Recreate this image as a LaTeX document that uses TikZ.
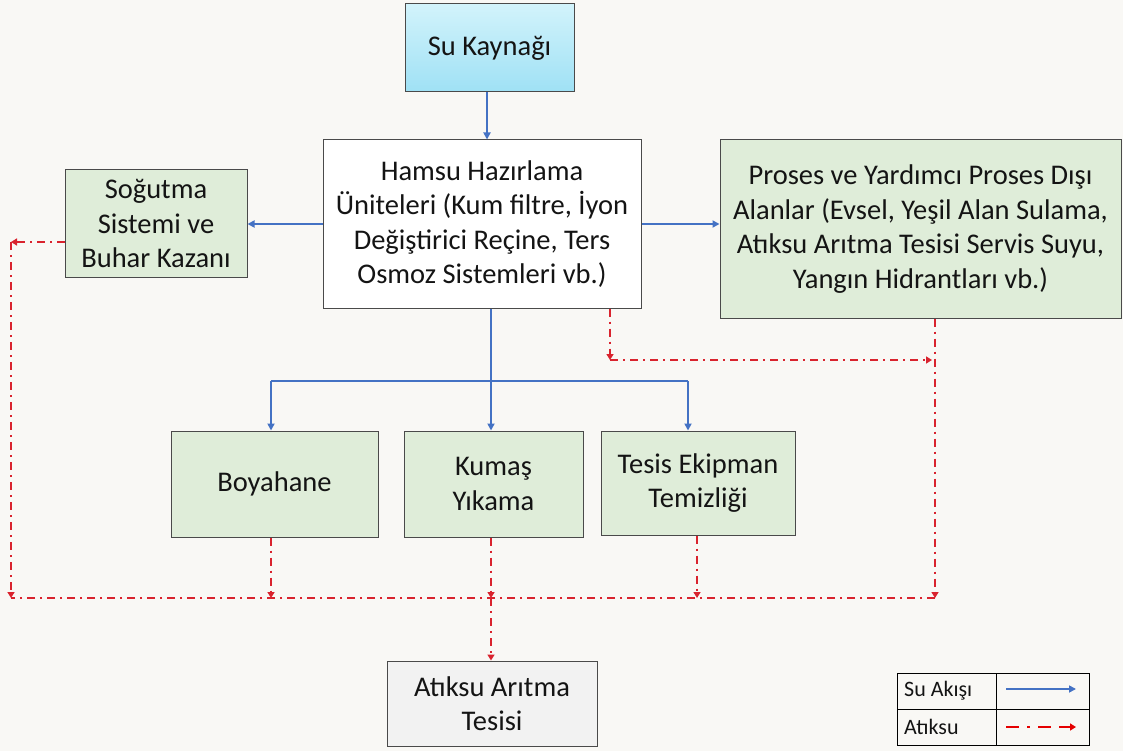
\documentclass[tikz,border=0pt]{standalone}
\usepackage{fontspec}
\setmainfont{Carlito}
\usetikzlibrary{arrows.meta,calc}
\definecolor{bg}{HTML}{F9F8F5}
\definecolor{boxgreen}{HTML}{DFEDD9}
\definecolor{boxgray}{HTML}{F2F2F2}
\definecolor{cyantop}{HTML}{D2F3FB}
\definecolor{cyanbot}{HTML}{9FE1F5}
\definecolor{flowblue}{HTML}{4472C4}
\definecolor{wastered}{HTML}{D9232E}
\definecolor{edgegray}{HTML}{4A4A4A}
\definecolor{txt}{HTML}{141414}
\tikzset{
  box/.style={draw=edgegray, line width=1pt, inner sep=0pt, align=center, text=txt,
    font=\fontsize{28.5}{34.5}\selectfont},
  greenbox/.style={box, fill=boxgreen},
  flow/.style={draw=flowblue, line width=2.2pt, -{Triangle[length=7pt,width=7pt]}},
  flowline/.style={draw=flowblue, line width=2.2pt},
  waste/.style={draw=wastered, line width=1.9pt, dash pattern=on 8pt off 5pt on 2pt off 5pt,
    -{Triangle[length=6pt,width=7pt]}},
  wasteline/.style={draw=wastered, line width=1.9pt, dash pattern=on 8pt off 5pt on 2pt off 5pt},
  legtext/.style={anchor=west, inner sep=0pt, text=txt, font=\fontsize{22}{24}\selectfont}
}
\begin{document}
\begin{tikzpicture}[x=1pt,y=-1pt]
\fill[bg] (0,0) rectangle (1123,751);
\useasboundingbox (0,0) rectangle (1123,751);

% boxes
\node[box, top color=cyantop, bottom color=cyanbot, minimum width=169pt, minimum height=88pt] (su) at (489.5,48) {Su Kaynağı};
\node[box, fill=white, minimum width=318pt, minimum height=168pt] (hamsu) at (482,224)
  {Hamsu Hazırlama\\Üniteleri (Kum filtre, İyon\\Değiştirici Reçine, Ters\\Osmoz Sistemleri vb.)};
\node[greenbox, minimum width=182pt, minimum height=107pt] (sog) at (156,223.5)
  {Soğutma\\Sistemi ve\\Buhar Kazanı};
\node[greenbox, minimum width=401pt, minimum height=178pt] (proses) at (920.5,229)
  {Proses ve Yardımcı Proses Dışı\\Alanlar (Evsel, Yeşil Alan Sulama,\\Atıksu Arıtma Tesisi Servis Suyu,\\Yangın Hidrantları vb.)};
\node[greenbox, minimum width=207pt, minimum height=106pt] (boya) at (274.5,484) {Boyahane};
\node[greenbox, minimum width=179pt, minimum height=106pt] (kumas) at (493.5,484) {Kumaş\\Yıkama};
\node[greenbox, minimum width=194pt, minimum height=104pt] (tesis) at (698,483) {Tesis Ekipman\\Temizliği};
\node[box, fill=boxgray, minimum width=210pt, minimum height=85pt] (aritma) at (492,703.5) {Atıksu Arıtma\\Tesisi};

% blue flows
\draw[flow] (su.south -| 487,0) -- (hamsu.north -| 487,0);
\draw[flow] (hamsu.west) -- (sog.east |- hamsu.west);
\draw[flow] (hamsu.east) -- (proses.west |- hamsu.east);
\coordinate (hb) at (491,381);
\coordinate (bl) at (271,381);
\coordinate (br) at (688,381);
\draw[flowline] (hamsu.south -| hb) -- (hb);
\draw[flowline] (bl) -- (br);
\draw[flow] (bl) -- (boya.north -| bl);
\draw[flow] (hb) -- (kumas.north -| hb);
\draw[flow] (br) -- (tesis.north -| br);

% red waste flows
\coordinate (sl) at (11,242);
\coordinate (sb) at (11,598);
\coordinate (hr) at (610,360);
\coordinate (pr) at (935,360);
\coordinate (pb) at (935,598);
\coordinate (kb) at (491,598);
\draw[waste] (sog.west |- sl) -- (sl);
\draw[waste] (sl) -- (sb);
\draw[waste] (hamsu.south -| hr) -- (hr);
\draw[waste] (hr) -- ($(pr)+(-3,0)$);
\draw[waste] (proses.south -| pb) -- (pb);
\draw[wasteline] (pb) -- (sb);
\draw[waste] (boya.south -| 271,0) -- (271,598);
\draw[waste] (kumas.south -| kb) -- (kb);
\draw[waste] (tesis.south -| 697,0) -- (697,598);
\draw[waste] (kb) -- (aritma.north -| kb);

% legend
\coordinate (lg1) at (897,673);
\coordinate (lg2) at (1089,745);
\draw[black, line width=1pt] (lg1) rectangle (lg2);
\draw[black, line width=1pt] (996,673) -- (996,745);
\draw[black, line width=1pt] (897,709) -- (1089,709);
\node[legtext] (l1) at (904,691) {Su Akışı};
\node[legtext] (l2) at (904,727) {Atıksu};
\coordinate (a1s) at (1006,689);
\coordinate (a1e) at (1076,689);
\coordinate (a2s) at (1006,727);
\coordinate (a2e) at (1076,727);
\draw[flow, line width=1.6pt] (a1s) -- (a1e);
\draw[waste, draw=red!90!black, line width=2.4pt, dash pattern=on 13pt off 8pt on 3pt off 8pt on 13pt off 8pt] (a2s) -- (a2e);
\end{tikzpicture}
\end{document}
